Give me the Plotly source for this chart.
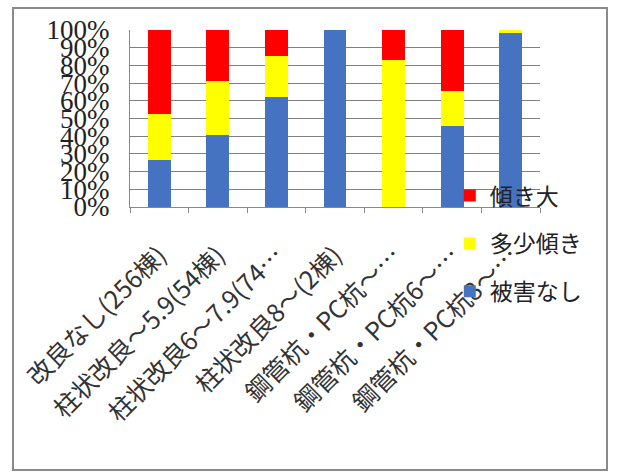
import plotly.graph_objects as go

# Foundation type categories (x axis)
categories = [
    "改良なし(256棟)",
    "柱状改良～5.9(54棟)",
    "柱状改良6～7.9(74…",
    "柱状改良8～(2棟)",
    "鋼管杭・PC杭～…",
    "鋼管杭・PC杭6～…",
    "鋼管杭・PC杭8～…",
]

# Share of buildings per damage class (%)
no_damage = [26.4, 40.5, 62.1, 100.0, 0.0, 46.0, 98.1]
slight_tilt = [26.0, 30.5, 23.0, 0.0, 82.9, 19.5, 1.9]
large_tilt = [47.6, 29.0, 14.9, 0.0, 17.1, 34.5, 0.0]

series_names = ["被害なし", "多少傾き", "傾き大"]
series_colors = ["#4672C2", "#FFFF00", "#FF0000"]
legend_ranks = [3, 2, 1]
y_ticks = [0, 10, 20, 30, 40, 50, 60, 70, 80, 90, 100]
y_tick_text = [f"{v}%" for v in y_ticks]

fig = go.Figure()
for name, vals, color, rank in zip(series_names, [no_damage, slight_tilt, large_tilt],
                                   series_colors, legend_ranks):
    fig.add_trace(go.Bar(
        x=categories, y=vals, name=name, legendgroup=name, legendrank=rank,
        marker=dict(color=color, line=dict(width=0)),
    ))

fig.update_layout(
    width=618, height=474,
    barmode="stack", bargap=0.61,
    paper_bgcolor="white", plot_bgcolor="white",
    margin=dict(l=130, r=78, t=30, b=267),
    showlegend=True,
    legend=dict(
        x=0.78, y=0.186, xanchor="left", yanchor="top",
        traceorder="grouped", tracegroupgap=15,
        font=dict(family="Noto Sans CJK JP", size=23, color="#222"),
        bgcolor="rgba(0,0,0,0)", itemwidth=30,
    ),
    xaxis=dict(
        type="category", tickangle=-45,
        tickfont=dict(family="Noto Sans CJK JP", size=25, color="#333"),
        ticks="outside", tickson="boundaries", ticklen=5, tickcolor="#888",
        showline=True, linecolor="#888", linewidth=1,
        ticklabelstandoff=23, showgrid=False,
    ),
    yaxis=dict(
        range=[0, 100], tickvals=y_ticks, ticktext=y_tick_text,
        tickfont=dict(family="Liberation Serif", size=27, color="#222"),
        showgrid=True, gridcolor="#808080", gridwidth=1,
        showline=True, linecolor="#888", linewidth=1,
        ticks="", ticklabelstandoff=14, zeroline=False,
    ),
    shapes=[dict(
        type="rect", xref="paper", yref="paper",
        x0=(13 - 130) / 410, x1=(607 - 130) / 410,
        y0=(207 - 470) / 177, y1=(207 - 8) / 177,
        line=dict(color="#8a8a8a", width=2), fillcolor="rgba(0,0,0,0)",
        layer="below",
    )],
)

fig.write_html("out.html")
